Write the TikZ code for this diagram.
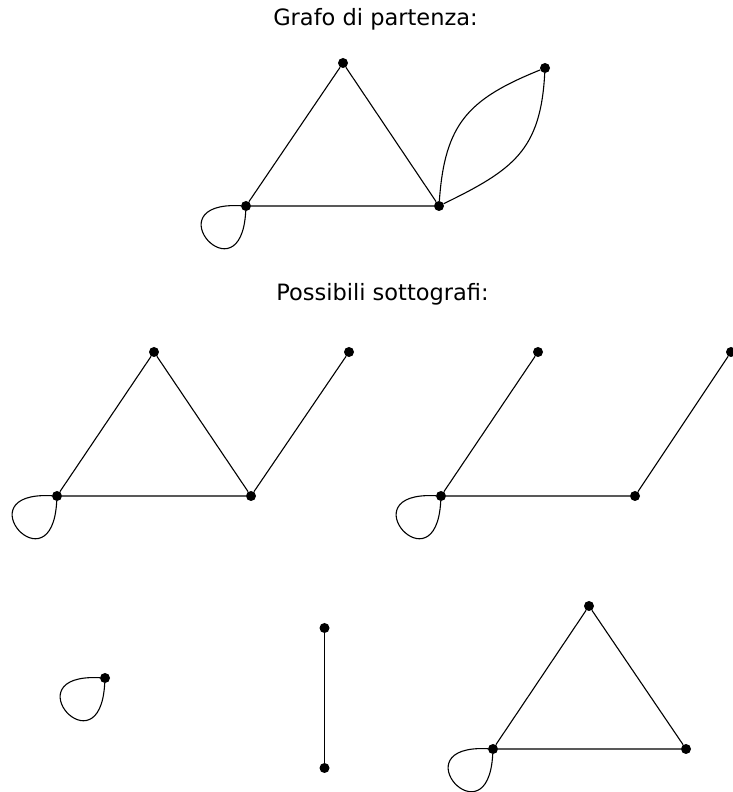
\documentclass[tikz,border=0pt]{standalone}
\usepackage{fontspec}
\setmainfont{DejaVu Sans}
\usetikzlibrary{positioning}

\tikzset{
  vtx/.style={circle,fill=black,inner sep=0pt,minimum size=10pt},
  edge/.style={line width=1.1pt},
  title/.style={anchor=base,font=\fontsize{22.5}{27}\selectfont}
}

% loop hanging down-left from a vertex
\newcommand{\selfloop}[1]{%
  \draw[edge] (#1) .. controls +(-95,5) and +(-5,-95) .. (#1);}

\begin{document}
\begin{tikzpicture}[x=1pt,y=1pt]
  \useasboundingbox (0,0) rectangle (732,792);

  % ---- titles ----
  \node[title] (t1) at (375.5,766) {Grafo di partenza:};
  \node[title] (t2) at (382.5,491) {Possibili sottografi:};

  % ---- starting graph ----
  \node[vtx] (a1) at (343,729) {};
  \node[vtx] (a2) at (545,724) {};
  \node[vtx] (a3) at (246,586) {};
  \node[vtx] (a4) at (439,586) {};
  \draw[edge] (a3) -- (a1) -- (a4) -- (a3);
  \draw[edge] (a4) to[out=86,in=202,looseness=1.2] (a2);
  \draw[edge] (a4) to[out=26,in=267,looseness=1.2] (a2);
  \selfloop{a3}

  % ---- subgraph 1 ----
  \node[vtx] (b1) at (154,440) {};
  \node[vtx] (b2) at (349,440) {};
  \node[vtx] (b3) at (57,296) {};
  \node[vtx] (b4) at (251,296) {};
  \draw[edge] (b3) -- (b1) -- (b4) -- (b3);
  \draw[edge] (b4) -- (b2);
  \selfloop{b3}

  % ---- subgraph 2 ----
  \node[vtx] (c1) at (538,440) {};
  \node[vtx] (c2) at (731,440) {};
  \node[vtx] (c3) at (441,296) {};
  \node[vtx] (c4) at (635,296) {};
  \draw[edge] (c1) -- (c3) -- (c4) -- (c2);
  \selfloop{c3}

  % ---- subgraph 3: single loop ----
  \node[vtx] (d1) at (105,114) {};
  \selfloop{d1}

  % ---- subgraph 4: single edge ----
  \node[vtx] (e1) at (324.5,164) {};
  \node[vtx] (e2) at (324.5,24) {};
  \draw[edge] (e1) -- (e2);

  % ---- subgraph 5: triangle with loop ----
  \node[vtx] (f1) at (589,186) {};
  \node[vtx] (f2) at (493,43) {};
  \node[vtx] (f3) at (686,43) {};
  \draw[edge] (f2) -- (f1) -- (f3) -- (f2);
  \selfloop{f2}
\end{tikzpicture}
\end{document}
